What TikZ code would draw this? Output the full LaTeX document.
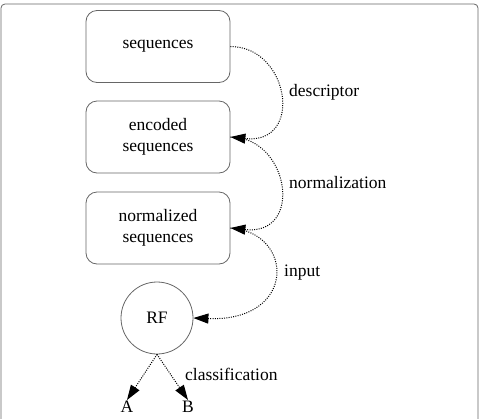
\documentclass[tikz,border=0pt]{standalone}
\usepackage{fontspec}
\setmainfont{Liberation Serif}
\usetikzlibrary{arrows.meta}
\begin{document}
\begin{tikzpicture}[x=1pt,y=-1pt,
  every node/.style={font=\fontsize{17.5}{21}\selectfont},
  box/.style={draw=black!60, line width=0.8pt, rounded corners=11pt, minimum width=144pt, minimum height=72pt, align=center, inner sep=0pt},
  circ/.style={draw=black!60, line width=0.8pt, circle, minimum size=72pt, inner sep=0pt},
  lbl/.style={anchor=west, inner sep=0pt},
  leaf/.style={inner sep=1pt},
  edge/.style={line width=1pt, dash pattern=on 1pt off 1.3pt, -{Triangle[length=15pt,width=10pt]}}]
\useasboundingbox (0,0) rectangle (479,418);
\draw[black!60, line width=0.8pt, rounded corners=4pt] (1,4) rectangle (478,430);
\node[box] (s) at (158,46.5) {sequences};
\node[box] (e) at (158,137) {encoded\\sequences};
\node[box] (n) at (158,228) {normalized\\sequences};
\node[circ] (rf) at (157,318) {RF};
\node[leaf, anchor=north] (A) at (127,400) {A};
\node[leaf, anchor=north] (B) at (188,400) {B};
\node[lbl] (ld) at (289,92) {descriptor};
\node[lbl] (ln) at (289,183) {normalization};
\node[lbl] (li) at (284,273) {input};
\node[lbl] (lc) at (185,374) {classification};
\draw[edge] (s.east) .. controls +(59,0) and +(74,8) .. (e.east);
\draw[edge] (e.east) .. controls +(59,0) and +(74,8) .. (n.east);
\draw[edge] (n.east) .. controls +(64,4) and +(104,4) .. (rf.east);
\draw[edge] (rf.south) -- (A.north);
\draw[edge] (rf.south) -- (B.north);
\end{tikzpicture}
\end{document}
